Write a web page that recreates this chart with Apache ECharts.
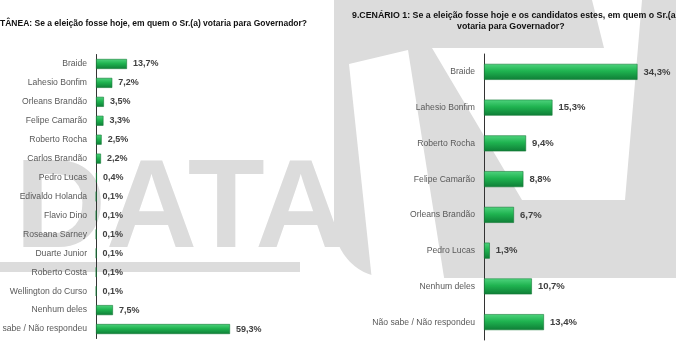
<!DOCTYPE html>
<html>
<head>
<meta charset="utf-8">
<script src="https://cdn.jsdelivr.net/npm/echarts@6/dist/echarts.min.js"></script>
<style>
  html, body { margin: 0; padding: 0; background: #fff; }
  #chart { width: 676px; height: 354px; }
</style>
</head>
<body>
<div id="chart"></div>
<script>
// espontânea (left)
const leftCats = ['Braide', 'Lahesio Bonfim', 'Orleans Brandão', 'Felipe Camarão', 'Roberto Rocha',
  'Carlos Brandão', 'Pedro Lucas', 'Edivaldo Holanda', 'Flavio Dino', 'Roseana Sarney',
  'Duarte Junior', 'Roberto Costa', 'Wellington do Curso', 'Nenhum deles', 'Não sabe / Não respondeu']
const leftVals = [13.7, 7.2, 3.5, 3.3, 2.5, 2.2, 0.4, 0.1, 0.1, 0.1, 0.1, 0.1, 0.1, 7.5, 59.3]

// cenário 1 (right)
const rightCats = ['Braide', 'Lahesio Bonfim', 'Roberto Rocha', 'Felipe Camarão', 'Orleans Brandão',
  'Pedro Lucas', 'Nenhum deles', 'Não sabe / Não respondeu']
const rightVals = [34.3, 15.3, 9.4, 8.8, 6.7, 1.3, 10.7, 13.4]

const leftTitle = 'TÂNEA: Se a eleição fosse hoje, em quem o Sr.(a) votaria para Governador?'
const rightTitle1 = '9.CENÁRIO 1: Se a eleição fosse hoje e os candidatos estes, em quem o Sr.(a)'
const rightTitle2 = 'votaria para Governador?'

const FONT = 'Liberation Sans'
const WM = '#dcdcdc'

const barColor = {
  type: 'linear', x: 0, y: 0, x2: 0, y2: 1,
  colorStops: [
    { offset: 0, color: '#4fd47e' },
    { offset: 0.45, color: '#1fb350' },
    { offset: 1, color: '#0e7d36' }
  ]
}

function fmt(p) {
  return p.value.toFixed(1).replace('.', ',') + '%'
}

function yAx(idx, cats) {
  return {
    type: 'category',
    gridIndex: idx,
    data: cats,
    inverse: true,
    axisLine: { lineStyle: { color: '#333', width: 1 } },
    axisTick: { length: 4, lineStyle: { color: '#333' } },
    axisLabel: { color: '#595959', fontFamily: FONT, fontSize: 8.6, margin: 9 }
  }
}

const chart = echarts.init(document.getElementById('chart'))
chart.setOption({
  backgroundColor: '#fff',
  animation: false,
  graphic: [
    // watermark - DATA
    { type: 'text', z: -10, left: 15, top: 149, style: { text: 'DATA', fill: WM, font: 'bold 126px ' + FONT } },
    { type: 'rect', z: -10, shape: { x: 0, y: 262, width: 300, height: 10 }, style: { fill: WM } },
    // watermark - logo on the right
    { type: 'rect', z: -10, shape: { x: 334, y: -60, width: 400, height: 338, r: 55 }, style: { fill: WM } },
    { type: 'polygon', z: -9, shape: { points: [[349, 64], [408, 50], [446, 290], [373, 290]] }, style: { fill: '#fff' } },
    { type: 'polygon', z: -9, shape: { points: [[432, 48], [604, 48], [592, 0], [642, 0], [625, 200], [522, 200]] }, style: { fill: '#fff' } },
    // titles
    { type: 'text', left: 0, top: 19, style: { text: leftTitle, fill: '#111', font: 'bold 8.5px ' + FONT } },
    { type: 'text', left: 352, top: 11, style: { text: rightTitle1, fill: '#111', font: 'bold 8.8px ' + FONT } },
    { type: 'text', left: 457, top: 22, style: { text: rightTitle2, fill: '#111', font: 'bold 8.8px ' + FONT } }
  ],
  grid: [
    { left: 96, top: 54.5, width: 226, height: 284, outerBoundsMode: 'none' },
    { left: 484, top: 54, width: 179, height: 286, outerBoundsMode: 'none' }
  ],
  xAxis: [
    { type: 'value', gridIndex: 0, min: 0, max: 100, show: false },
    { type: 'value', gridIndex: 1, min: 0, max: 40, show: false }
  ],
  yAxis: [yAx(0, leftCats), yAx(1, rightCats)],
  series: [
    {
      type: 'bar', xAxisIndex: 0, yAxisIndex: 0, data: leftVals, barWidth: 10,
      itemStyle: { color: barColor, borderColor: '#157a38', borderWidth: 0.6 },
      label: { show: true, position: 'right', distance: 6, formatter: fmt, color: '#404040', fontFamily: FONT, fontWeight: 'bold', fontSize: 9 }
    },
    {
      type: 'bar', xAxisIndex: 1, yAxisIndex: 1, data: rightVals, barWidth: 16,
      itemStyle: { color: barColor, borderColor: '#157a38', borderWidth: 0.6 },
      label: { show: true, position: 'right', distance: 6, formatter: fmt, color: '#404040', fontFamily: FONT, fontWeight: 'bold', fontSize: 9.5 }
    }
  ]
})
</script>
</body>
</html>
